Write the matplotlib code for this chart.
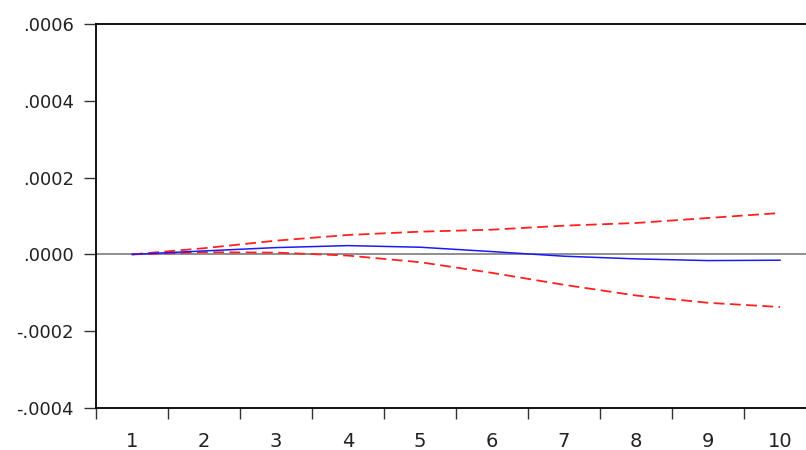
import matplotlib
matplotlib.use("Agg")
import matplotlib.pyplot as plt
import numpy as np

periods = [1, 2, 3, 4, 5, 6, 7, 8, 9, 10]
response = [0.0, 9e-6, 1.77e-5, 2.29e-5, 1.87e-5, 7.3e-6, -4.7e-6, -1.17e-5, -1.61e-5, -1.51e-5]
upper = [0.0, 1.61e-5, 3.58e-5, 5.06e-5, 5.92e-5, 6.44e-5, 7.48e-5, 8.18e-5, 9.48e-5, 1.078e-4]
lower = [0.0, 5.7e-6, 4.7e-6, -3.1e-6, -2.03e-5, -4.81e-5, -7.92e-5, -1.07e-4, -1.26e-4, -1.37e-4]
yticks = [-0.0004, -0.0002, 0.0, 0.0002, 0.0004, 0.0006]
ytick_labels = ["-.0004", "-.0002", ".0000", ".0002", ".0004", ".0006"]

plt.rcParams["font.family"] = ["DejaVu Sans"]

fig = plt.figure(figsize=(8.06, 4.5), dpi=100)
# axes runs past the right edge of the canvas, as in the reference crop
ax = fig.add_axes([96 / 806, 1 - 408 / 450, 720 / 806, 384 / 450])

ax.axhline(0, color="#707070", lw=1.1, zorder=1)
ax.plot(periods, upper, color="#ff2020", lw=1.3, ls=(0, (6, 3)), zorder=2)
ax.plot(periods, lower, color="#ff2020", lw=1.3, ls=(0, (6, 3)), zorder=2)
ax.plot(periods, response, color="#1a1aff", lw=1.1, zorder=3)

ax.set_xlim(0.5, 10.5)
ax.set_ylim(-0.0004, 0.0006)

ax.set_yticks(yticks)
ax.set_yticklabels(ytick_labels, fontsize=13, color="#222222")
ax.tick_params(axis="y", direction="out", length=9, width=1, pad=7, color="#333333")

ax.set_xticks(periods)
ax.set_xticklabels([str(p) for p in periods], fontsize=14, color="#222222")
ax.set_xticks(np.arange(0.5, 11, 1), minor=True)
ax.tick_params(axis="x", which="major", length=0, pad=17)
ax.tick_params(axis="x", which="minor", direction="out", length=8, width=1, color="#333333")

for s in ax.spines.values():
    s.set_linewidth(1.3)
    s.set_color("black")

fig.savefig("out.png", dpi=100)
